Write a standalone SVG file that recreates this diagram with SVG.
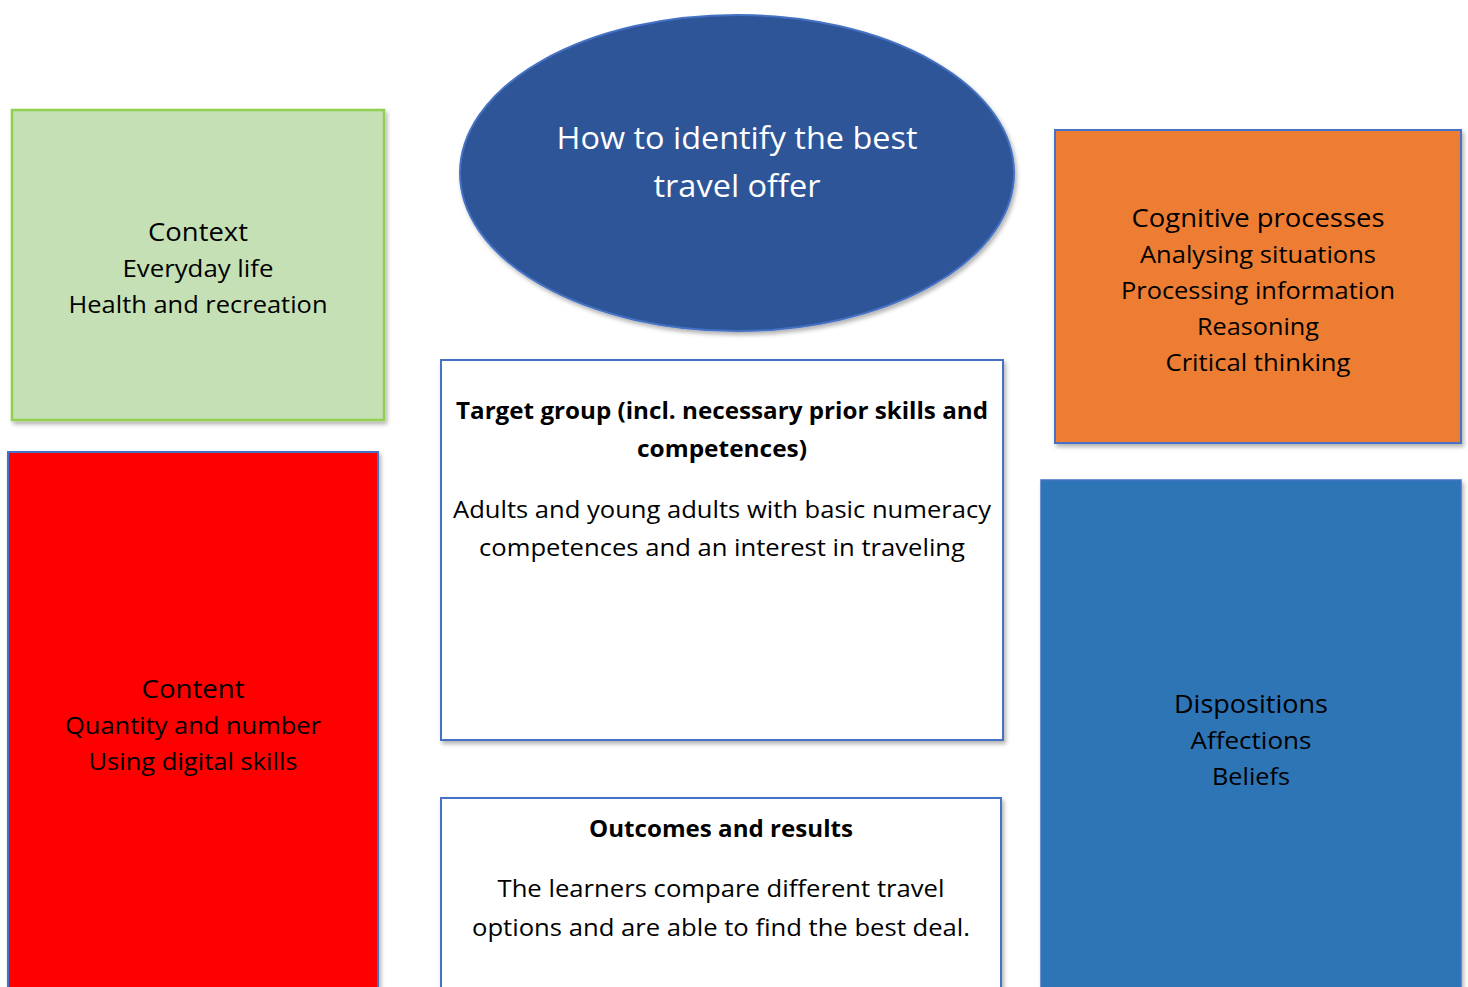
<svg xmlns="http://www.w3.org/2000/svg" width="1468" height="987" viewBox="0 0 1468 987">
<style>
  text { font-family: "Open Sans", "Noto Sans", "Liberation Sans", sans-serif; text-anchor: middle; fill: #000; }
  .t { font-size: 26px; }
  .b { font-size: 23px; }
  .hb { font-size: 23px; font-weight: bold; }
  .w { fill: #fff; font-size: 31px; }
  .box { stroke: #4472C4; stroke-width: 2; }
</style>
<defs>
  <filter id="sh" x="-5%" y="-5%" width="112%" height="112%">
    <feDropShadow dx="2" dy="3" stdDeviation="2" flood-color="#000" flood-opacity="0.3"/>
  </filter>
</defs>
<rect width="1468" height="987" fill="#fff"/>
<g id="connectors"/>
<g id="context">
  <rect x="12" y="110" width="372" height="310" fill="#C5E0B4" stroke="#92D050" stroke-width="2.5" filter="url(#sh)"/>
  <text class="t" x="198" y="241" textLength="100" lengthAdjust="spacingAndGlyphs">Context</text>
  <text class="b" x="198" y="277" textLength="151" lengthAdjust="spacingAndGlyphs">Everyday life</text>
  <text class="b" x="198" y="313" textLength="259" lengthAdjust="spacingAndGlyphs">Health and recreation</text>
</g>
<g id="title">
  <ellipse cx="737" cy="173" rx="277" ry="158" fill="#2F5597" stroke="#4472C4" stroke-width="2" filter="url(#sh)"/>
  <text class="w" x="737" y="149" textLength="361" lengthAdjust="spacingAndGlyphs">How to identify the best</text>
  <text class="w" x="737" y="197" textLength="167" lengthAdjust="spacingAndGlyphs">travel offer</text>
</g>
<g id="cognitive">
  <rect x="1055" y="130" width="406" height="313" fill="#ED7D31" class="box" filter="url(#sh)"/>
  <text class="t" x="1258" y="227" textLength="253" lengthAdjust="spacingAndGlyphs">Cognitive processes</text>
  <text class="b" x="1258" y="263" textLength="236" lengthAdjust="spacingAndGlyphs">Analysing situations</text>
  <text class="b" x="1258" y="299" textLength="274" lengthAdjust="spacingAndGlyphs">Processing information</text>
  <text class="b" x="1258" y="335" textLength="122" lengthAdjust="spacingAndGlyphs">Reasoning</text>
  <text class="b" x="1258" y="371" textLength="185" lengthAdjust="spacingAndGlyphs">Critical thinking</text>
</g>
<g id="content">
  <rect x="8" y="452" width="370" height="560" fill="#FF0000" class="box" filter="url(#sh)"/>
  <text class="t" x="193" y="698" textLength="103" lengthAdjust="spacingAndGlyphs">Content</text>
  <text class="b" x="193" y="734" textLength="256" lengthAdjust="spacingAndGlyphs">Quantity and number</text>
  <text class="b" x="193" y="770" textLength="209" lengthAdjust="spacingAndGlyphs">Using digital skills</text>
</g>
<g id="target">
  <rect x="441" y="360" width="562" height="380" fill="#fff" class="box" filter="url(#sh)"/>
  <text class="hb" x="722" y="419" textLength="532" lengthAdjust="spacingAndGlyphs">Target group (incl. necessary prior skills and</text>
  <text class="hb" x="722" y="457" textLength="170" lengthAdjust="spacingAndGlyphs">competences)</text>
  <text class="b" x="722" y="518" textLength="538" lengthAdjust="spacingAndGlyphs">Adults and young adults with basic numeracy</text>
  <text class="b" x="722" y="556" textLength="486" lengthAdjust="spacingAndGlyphs">competences and an interest in traveling</text>
</g>
<g id="outcomes">
  <rect x="441" y="798" width="560" height="220" fill="#fff" class="box" filter="url(#sh)"/>
  <text class="hb" x="721" y="837" textLength="264" lengthAdjust="spacingAndGlyphs">Outcomes and results</text>
  <text class="b" x="721" y="897" textLength="447" lengthAdjust="spacingAndGlyphs">The learners compare different travel</text>
  <text class="b" x="721" y="936" textLength="498" lengthAdjust="spacingAndGlyphs">options and are able to find the best deal.</text>
</g>
<g id="dispositions">
  <rect x="1041" y="480" width="420" height="540" fill="#2E75B6" stroke="#4472C4" stroke-width="1.5" filter="url(#sh)"/>
  <text class="t" x="1251" y="713" textLength="154" lengthAdjust="spacingAndGlyphs">Dispositions</text>
  <text class="b" x="1251" y="749" textLength="121" lengthAdjust="spacingAndGlyphs">Affections</text>
  <text class="b" x="1251" y="785" textLength="78" lengthAdjust="spacingAndGlyphs">Beliefs</text>
</g>
</svg>
